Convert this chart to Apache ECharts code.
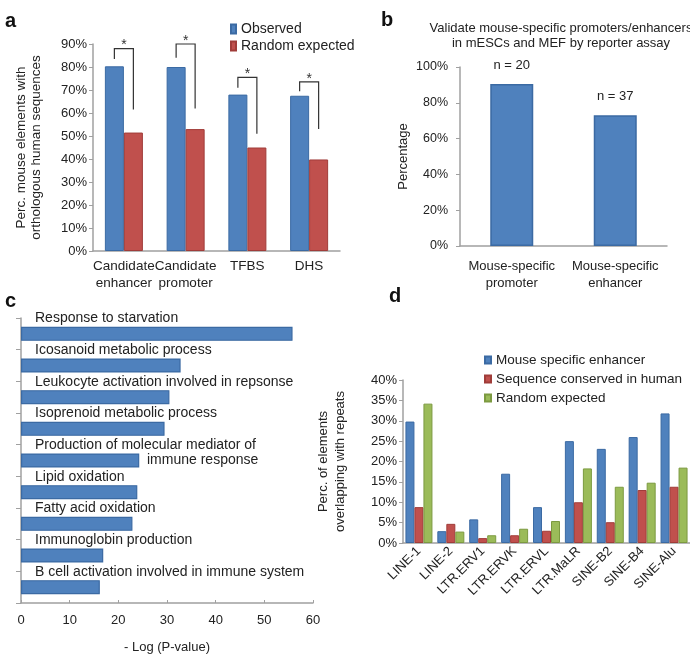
<!DOCTYPE html>
<html>
<head>
<meta charset="utf-8">
<script src="https://cdn.jsdelivr.net/npm/echarts@6/dist/echarts.min.js"></script>
<style>
  body { margin: 0; background: #fff; }
  #charts { width: 690px; height: 666px; }
</style>
</head>
<body>
<div id="charts"></div>
<script>
// panel a
var catsA = ['Candidate\nenhancer', 'Candidate\npromoter', 'TFBS', 'DHS'];
var observed = [80.3, 80, 68, 67.5];
var randomExp = [51.5, 53, 45, 39.8];
var bracketStart = [83.5, 84, 71, 69.5];
var bracketTop = [88, 90, 75.5, 73.5];
var bracketEnd = [61.5, 62, 51, 53];
// panel b
var catsB = ['Mouse-specific\npromoter', 'Mouse-specific\nenhancer'];
var validated = [90.5, 73];
var nLabels = ['n = 20', 'n = 37'];
// panel c
var goTerms = ['Response to starvation', 'Icosanoid metabolic process',
  'Leukocyte activation involved in repsonse', 'Isoprenoid metabolic process',
  'Production of molecular mediator of\nimmune response', 'Lipid oxidation',
  'Fatty acid oxidation', 'Immunoglobin production',
  'B cell activation involved in immune system'];
var goScores = [55.8, 32.8, 30.5, 29.5, 24.3, 23.9, 22.9, 16.9, 16.2];
// panel d
var repeatCats = ['LINE-1', 'LINE-2', 'LTR.ERV1', 'LTR.ERVK', 'LTR.ERVL', 'LTR.MaLR', 'SINE-B2', 'SINE-B4', 'SINE-Alu'];
var mouseSpec = [29.8, 2.9, 5.8, 17, 8.8, 25, 23.1, 26, 31.8];
var conserved = [8.8, 4.7, 1.2, 1.9, 3, 10, 5.1, 13, 13.8];
var randomD = [34.2, 2.8, 1.9, 3.5, 5.4, 18.3, 13.8, 14.8, 18.5];

var FONT = 'Liberation Sans, Arial, sans-serif';
var BLUE = '#4f81bd', RED = '#c0504d', GREEN = '#9bbb59';
var AXIS = { lineStyle: { color: '#a0a0a0', width: 1.5 } };
var barWidthA = 19;

var chart = echarts.init(document.getElementById('charts'));

function pct(v) { return v + '%'; }

option = {
  animation: false,
  textStyle: { fontFamily: FONT, color: '#222' },
  title: [
    { text: 'a', left: 0, top: 6, textStyle: { fontSize: 20, fontWeight: 'bold', fontFamily: FONT, color: '#111' } },
    { text: 'b', left: 376, top: 5, textStyle: { fontSize: 20, fontWeight: 'bold', fontFamily: FONT, color: '#111' } },
    { text: 'c', left: 0, top: 286, textStyle: { fontSize: 20, fontWeight: 'bold', fontFamily: FONT, color: '#111' } },
    { text: 'd', left: 384, top: 281, textStyle: { fontSize: 20, fontWeight: 'bold', fontFamily: FONT, color: '#111' } },
    { text: 'Validate mouse-specific promoters/enhancers\nin mESCs and MEF by reporter assay',
      left: 556, top: 16, textAlign: 'center',
      textStyle: { fontSize: 13, fontWeight: 'normal', fontFamily: FONT, color: '#222', lineHeight: 15 } }
  ],
  legend: [
    { orient: 'vertical', left: 225, top: 17, itemWidth: 5, itemHeight: 9, itemGap: 3, icon: 'rect',
      textStyle: { fontSize: 14, fontFamily: FONT, color: '#222' },
      data: ['Observed', 'Random expected'] },
    { orient: 'vertical', left: 479, top: 348, itemWidth: 6, itemHeight: 7, itemGap: 5, icon: 'rect',
      textStyle: { fontSize: 13.5, fontFamily: FONT, color: '#222' },
      data: ['Mouse specific enhancer', 'Sequence conserved in human', 'Random expected '] }
  ],
  grid: [
    { left: 93, top: 44, right: 350, bottom: 415 },
    { left: 460, top: 67, right: 23, bottom: 420 },
    { left: 21, top: 318, right: 377, bottom: 63 },
    { left: 403, top: 380, right: -5, bottom: 123 }
  ],
  xAxis: [
    { gridIndex: 0, type: 'category', data: catsA, axisLine: AXIS,
      axisTick: { length: 4, lineStyle: { color: '#a0a0a0' } },
      axisLabel: { fontSize: 13.5, color: '#222', margin: 7, lineHeight: 17, interval: 0 } },
    { gridIndex: 1, type: 'category', data: catsB, axisLine: AXIS,
      axisTick: { length: 4, lineStyle: { color: '#a0a0a0' } },
      axisLabel: { fontSize: 13, color: '#222', margin: 12, lineHeight: 17, interval: 0 } },
    { gridIndex: 2, type: 'value', min: 0, max: 60, interval: 10, axisLine: { show: true, lineStyle: AXIS.lineStyle },
      axisTick: { show: true, inside: true, length: 3, lineStyle: { color: '#a0a0a0' } },
      splitLine: { show: false },
      axisLabel: { fontSize: 13, color: '#222', margin: 11 },
      name: '- Log (P-value)', nameLocation: 'middle', nameGap: 38,
      nameTextStyle: { fontSize: 13, color: '#222' } },
    { gridIndex: 3, type: 'category', data: repeatCats, axisLine: AXIS,
      axisTick: { length: 3, lineStyle: { color: '#a0a0a0' } },
      axisLabel: { fontSize: 13, color: '#222', rotate: 45, margin: 6, interval: 0 } }
  ],
  yAxis: [
    { gridIndex: 0, type: 'value', min: 0, max: 90, interval: 10, axisLine: { show: true, lineStyle: AXIS.lineStyle },
      axisTick: { show: true, length: 4, lineStyle: { color: '#a0a0a0' } }, splitLine: { show: false },
      axisLabel: { fontSize: 13, color: '#222', formatter: pct, margin: 6 },
      name: 'Perc. mouse elements with\northologous human sequences', nameLocation: 'middle', nameGap: 49,
      nameTextStyle: { fontSize: 13.5, color: '#222', lineHeight: 15 } },
    { gridIndex: 1, type: 'value', min: 0, max: 100, interval: 20, axisLine: { show: true, lineStyle: AXIS.lineStyle },
      axisTick: { show: true, length: 4, lineStyle: { color: '#a0a0a0' } }, splitLine: { show: false },
      axisLabel: { fontSize: 12.5, color: '#222', formatter: pct, margin: 12 },
      name: 'Percentage', nameLocation: 'middle', nameGap: 50,
      nameTextStyle: { fontSize: 13, color: '#222' } },
    { gridIndex: 2, type: 'category', data: goTerms, inverse: true, axisLine: AXIS,
      axisTick: { show: true, length: 5, lineStyle: { color: '#a0a0a0' } },
      axisLabel: { show: false } },
    { gridIndex: 3, type: 'value', min: 0, max: 40, interval: 5, axisLine: { show: true, lineStyle: AXIS.lineStyle },
      axisTick: { show: true, length: 4, lineStyle: { color: '#a0a0a0' } }, splitLine: { show: false },
      axisLabel: { fontSize: 13, color: '#222', formatter: pct, margin: 6 },
      name: 'Perc. of elements\noverlapping with repeats', nameLocation: 'middle', nameGap: 54,
      nameTextStyle: { fontSize: 13, color: '#222', lineHeight: 17 } }
  ],
  series: [
    { name: 'Observed', type: 'bar', xAxisIndex: 0, yAxisIndex: 0, data: observed,
      barWidth: barWidthA, barGap: '0%',
      itemStyle: { color: BLUE, borderColor: '#3b6aa3', borderWidth: 1 } },
    { name: 'Random expected', type: 'bar', xAxisIndex: 0, yAxisIndex: 0, data: randomExp,
      barWidth: barWidthA, barGap: '0%',
      itemStyle: { color: RED, borderColor: '#a03c39', borderWidth: 1 } },
    { name: 'bracket', type: 'custom', xAxisIndex: 0, yAxisIndex: 0,
      data: bracketStart.map(function (v, i) { return [i, v, bracketTop[i], bracketEnd[i]]; }),
      encode: { x: 0, y: [1, 2, 3] },
      renderItem: function (params, api) {
        var i = api.value(0);
        var c0 = api.coord([i, api.value(1)]);
        var cTop = api.coord([i, api.value(2)]);
        var c2 = api.coord([i, api.value(3)]);
        var half = barWidthA / 2;
        var xl = c0[0] - half, xr = c0[0] + half;
        return { type: 'group', children: [
          { type: 'polyline', shape: { points: [[xl, c0[1]], [xl, cTop[1]], [xr, cTop[1]], [xr, c2[1]]] },
            style: { stroke: '#333', fill: null, lineWidth: 1.2 } },
          { type: 'text', x: c0[0], y: cTop[1] + 4,
            style: { text: '*', textAlign: 'center', textVerticalAlign: 'bottom', fontSize: 14, fill: '#333', fontFamily: FONT } }
        ] };
      } },
    { name: 'validated', type: 'bar', xAxisIndex: 1, yAxisIndex: 1, data: validated, barWidth: 43,
      itemStyle: { color: BLUE, borderColor: '#3b6aa3', borderWidth: 1.5 },
      label: { show: true, position: 'top', distance: 12, fontSize: 13, color: '#222', fontFamily: FONT,
        formatter: function (p) { return nLabels[p.dataIndex]; } } },
    { name: 'go', type: 'bar', xAxisIndex: 2, yAxisIndex: 2, data: goScores, barWidth: 14,
      itemStyle: { color: BLUE, borderColor: '#3b6aa3', borderWidth: 1.2 },
      label: { show: true, position: [14, -16], verticalAlign: 'top', align: 'left',
        fontSize: 14, color: '#222', fontFamily: FONT, lineHeight: 15,
        formatter: function (p) {
          var parts = goTerms[p.dataIndex].split('\n');
          if (parts.length > 1) return '{t|' + parts[0] + '}\n{i|' + parts[1] + '}';
          return '{t|' + parts[0] + '}';
        },
        rich: {
          t: { fontSize: 14, color: '#222', fontFamily: FONT, lineHeight: 15 },
          i: { fontSize: 14, color: '#222', fontFamily: FONT, lineHeight: 15, padding: [0, 0, 0, 112] }
        } } },
    { name: 'Mouse specific enhancer', type: 'bar', xAxisIndex: 3, yAxisIndex: 3, data: mouseSpec,
      barWidth: 9, barGap: '0%', itemStyle: { color: BLUE, borderColor: '#3b6aa3', borderWidth: 1 } },
    { name: 'Sequence conserved in human', type: 'bar', xAxisIndex: 3, yAxisIndex: 3, data: conserved,
      barWidth: 9, barGap: '0%', itemStyle: { color: RED, borderColor: '#a03c39', borderWidth: 1 } },
    { name: 'Random expected ', type: 'bar', xAxisIndex: 3, yAxisIndex: 3, data: randomD,
      barWidth: 9, barGap: '0%', itemStyle: { color: GREEN, borderColor: '#7c9a40', borderWidth: 1 } }
  ]
};
chart.setOption(option);
</script>
</body>
</html>
